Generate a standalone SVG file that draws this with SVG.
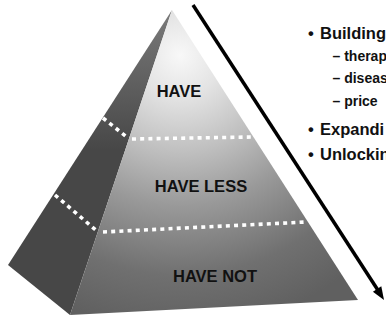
<svg xmlns="http://www.w3.org/2000/svg" width="386" height="325" viewBox="0 0 386 325">
  <style>
    .lbl { font-family: "Liberation Sans", Arial, sans-serif; font-weight: bold; fill: #111; }
    .tier { font-size: 16.5px; text-anchor: middle; }
    .b1 { font-size: 16.5px; }
    .b2 { font-size: 14px; }
    .dash { stroke: #ffffff; stroke-width: 3.6; stroke-dasharray: 4 4.2; fill: none; }
  </style>
  <defs>
    <radialGradient id="frontGrad" gradientUnits="userSpaceOnUse" cx="180" cy="55" r="275">
      <stop offset="0" stop-color="#f8f8f8"/>
      <stop offset="0.15" stop-color="#e4e4e4"/>
      <stop offset="0.35" stop-color="#c0c0c0"/>
      <stop offset="0.55" stop-color="#999999"/>
      <stop offset="0.8" stop-color="#707070"/>
      <stop offset="1" stop-color="#606060"/>
    </radialGradient>
    <linearGradient id="sideGrad" gradientUnits="userSpaceOnUse" x1="0" y1="10" x2="0" y2="150">
      <stop offset="0" stop-color="#7a7a7a"/>
      <stop offset="1" stop-color="#474747"/>
    </linearGradient>
  </defs>
  <rect width="386" height="325" fill="#ffffff"/>

  <g id="pyramid">
    <polygon id="side-face" points="172,10 8,265 70,315" fill="url(#sideGrad)"/>
    <polygon id="front-face" points="172,10 70,315 358,300" fill="url(#frontGrad)"/>
    <line class="dash" x1="103" y1="118" x2="128" y2="138"/>
    <line class="dash" x1="132" y1="139" x2="252" y2="137"/>
    <line class="dash" x1="55" y1="195" x2="98" y2="232"/>
    <line class="dash" x1="103" y1="232" x2="306" y2="222"/>
  </g>

  <g id="tier-have"><text class="lbl tier" x="179" y="97">HAVE</text></g>
  <g id="tier-have-less"><text class="lbl tier" x="201" y="192">HAVE LESS</text></g>
  <g id="tier-have-not"><text class="lbl tier" x="215" y="282">HAVE NOT</text></g>

  <g id="connectors">
    <line x1="193" y1="5" x2="377.5" y2="289.5" stroke="#000" stroke-width="3.5"/>
    <polygon points="384,300 381.3,286.3 372.9,291.8" fill="#000"/>
  </g>

  <g id="bullets">
    <text class="lbl b1" x="308" y="38.5">•</text>
    <text class="lbl b1" x="320" y="38.5">Building</text>
    <text class="lbl b2" x="332.5" y="61">– therap</text>
    <text class="lbl b2" x="332.5" y="83">– diseas</text>
    <text class="lbl b2" x="332.5" y="105.5">– price</text>
    <text class="lbl b1" x="308" y="135">•</text>
    <text class="lbl b1" x="320" y="135">Expandi</text>
    <text class="lbl b1" x="308" y="160">•</text>
    <text class="lbl b1" x="320" y="160">Unlockin</text>
  </g>
</svg>
